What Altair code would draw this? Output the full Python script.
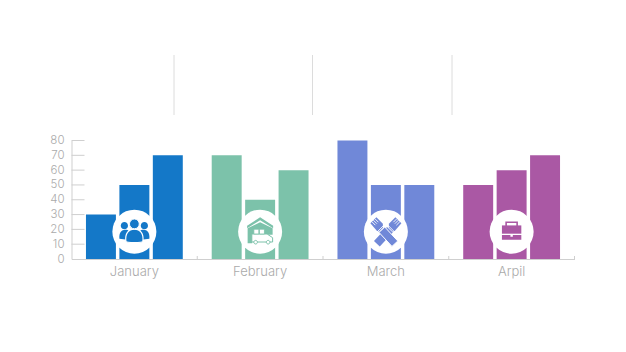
import re
import altair as alt
import pandas as pd

months = ["January", "February", "March", "Arpil"]
first = [30, 70, 80, 50]
second = [50, 40, 50, 60]
third = [70, 60, 50, 70]
colors = ["#1478c8", "#7cc2aa", "#7088d8", "#aa58a4"]
y_ticks = [0, 10, 20, 30, 40, 50, 60, 70, 80]

GREY = "#aaaaaa"
LINE = "#cfcfcf"
FONT = "Inter"
W, H = 503, 118.5
U = 16.0


def sc(path):
    return re.sub(r"-?\d+\.?\d*", lambda m: f"{float(m.group()) / U:.4f}", path)


def circ(cx, cy, r):
    k = r * 0.5523
    return (f"M{cx-r} {cy} C{cx-r} {cy-k} {cx-k} {cy-r} {cx} {cy-r} "
            f"C{cx+k} {cy-r} {cx+r} {cy-k} {cx+r} {cy} "
            f"C{cx+r} {cy+k} {cx+k} {cy+r} {cx} {cy+r} "
            f"C{cx-k} {cy+r} {cx-r} {cy+k} {cx-r} {cy} Z")


rows = []
for m, a, b, c, col in zip(months, first, second, third, colors):
    for s, v in zip("abc", (a, b, c)):
        rows.append({"month": m, "series": s, "value": v, "color": col})
df = pd.DataFrame(rows)

x_scale = alt.Scale(domain=months, paddingInner=0.23, paddingOuter=0.115)
y_scale = alt.Scale(domain=[0, 80], nice=False)
x_axis = alt.Axis(ticks=False, labelAngle=0, labelFont=FONT, labelFontSize=13,
                  labelFontWeight=300, labelColor=GREY, labelPadding=6,
                  domainColor=LINE, domainWidth=1, grid=False, title=None)
y_axis = alt.Axis(values=y_ticks, ticks=False, labelFont=FONT, labelFontSize=11.5,
                  labelFontWeight=300, labelColor=GREY, labelPadding=7.5,
                  domainColor=LINE, domainWidth=1, grid=False, title=None)
x_plain = alt.X("month:N", scale=x_scale, sort=None, axis=x_axis)

bars = alt.Chart(df).mark_bar(cornerRadius=0).encode(
    x=x_plain,
    xOffset=alt.XOffset("series:N", scale=alt.Scale(paddingInner=0.104, paddingOuter=0)),
    y=alt.Y("value:Q", scale=y_scale, axis=y_axis),
    color=alt.Color("color:N", scale=None, legend=None),
)

y_rules = alt.Chart(pd.DataFrame({"t": y_ticks[1:]})).mark_rule(color=LINE, strokeWidth=1).encode(
    y=alt.Y("t:Q", scale=y_scale, axis=y_axis), x=alt.value(0), x2=alt.value(13)
)

one = pd.DataFrame({"k": [0]})
extras = []
for xp in (125.75, 251.5, 377.25, 503):
    extras.append(alt.Chart(one).mark_rule(color=LINE, strokeWidth=1).encode(
        x=alt.value(xp), y=alt.value(H - 3), y2=alt.value(H)))
for xp in (102.5, 241, 380.5):
    extras.append(alt.Chart(one).mark_rule(color="#dcdcdc", strokeWidth=1).encode(
        x=alt.value(xp), y=alt.value(-85.5), y2=alt.value(-25.5)))


def glyph(month, path, fill=None, stroke=None, sw=0.0):
    kw = {"shape": sc(path), "size": (2 * U) ** 2, "opacity": 1}
    if fill:
        kw.update(filled=True, fill=fill)
    else:
        kw.update(filled=False, fill="transparent")
    kw.update(stroke=stroke if stroke else "transparent", strokeWidth=sw)
    return alt.Chart(pd.DataFrame({"month": [month]})).mark_point(**kw).encode(
        x=x_plain, y=alt.value(91.2))


disc = alt.Chart(pd.DataFrame({"month": months})).mark_point(
    shape="circle", filled=True, fill="white", opacity=1, size=44 * 44, strokeWidth=0
).encode(x=x_plain, y=alt.value(91.2))

J, F, M, A = colors
icons = [
    # people
    glyph(months[0], circ(-10, -6, 3.6), J),
    glyph(months[0], circ(10, -6, 3.6), J),
    glyph(months[0], "M-15 7 C-15.5 1 -13 -2 -9 -2 C-6 -2 -4 0 -4 3 L-7 8 Z", J),
    glyph(months[0], "M15 7 C15.5 1 13 -2 9 -2 C6 -2 4 0 4 3 L7 8 Z", J),
    glyph(months[0], "M-8.5 9.5 C-9.5 2 -6 -2.5 0 -2.5 C6 -2.5 9.5 2 8.5 9.5 C8 11.5 -8 11.5 -8.5 9.5 Z", J, "white", 1.2),
    glyph(months[0], circ(0, -7.8, 4.9), J, "white", 1.0),
    # warehouse and truck
    glyph(months[1], "M-13 -6 L0 -14.5 L13 -6 L13 -3.5 L0 -11.5 L-13 -3.5 Z", F),
    glyph(months[1], "M-12.5 -3.5 L0 -9.5 L12.5 -3.5 L12.5 3 L-8 3 L-8 11.5 L-12.5 11.5 Z", F),
    glyph(months[1], "M-8.3 2.3 L7 2.3 L12.5 6 L12.5 10.3 L-8.3 10.3 Z", "white", F, 1.0),
    glyph(months[1], "M-6.3 -2.5 L-1.2 -2.5 L-1.2 2.3 L-6.3 2.3 Z M-0.8 -2.5 L4.3 -2.5 L4.3 2.3 L-0.8 2.3 Z", "white", F, 0.8),
    glyph(months[1], circ(-4.5, 10.5, 1.8), "white", F, 1.0),
    glyph(months[1], circ(8, 10.5, 1.8), "white", F, 1.0),
    # crossed fists
    glyph(months[2], "M6.9 0.7 L1.1 -4.7 L-11.9 9.3 L-6.1 14.7 Z", M),
    glyph(months[2], "M-6.9 0.7 L-1.1 -4.7 L11.9 9.3 L6.1 14.7 Z", M, "white", 1.0),
    glyph(months[2], "M-15.5 -8.5 L-9.5 -14.5 L-3 -8 L-3 -4 L-7 0 L-9.5 -1.5 Z", M),
    glyph(months[2], "M15.5 -8.5 L9.5 -14.5 L3 -8 L3 -4 L7 0 L9.5 -1.5 Z", M),
    glyph(months[2], "M-14 -10 L-10.5 -6.5 M-12.5 -11.5 L-9 -8 M-11 -13 L-7.5 -9.5", None, "white", 0.9),
    glyph(months[2], "M14 -10 L10.5 -6.5 M12.5 -11.5 L9 -8 M11 -13 L7.5 -9.5", None, "white", 0.9),
    glyph(months[2], "M-9 0.5 L-2 -6.5 M9 0.5 L2 -6.5", None, "white", 0.9),
    # briefcase
    glyph(months[3], "M-5.5 -5.5 L-5.5 -9.5 L5.5 -9.5 L5.5 -5.5", None, A, 1.6),
    glyph(months[3], "M-9.7 -6.3 L9.7 -6.3 L9.7 2 L-9.7 2 Z", A),
    glyph(months[3], "M-9.7 3.2 L-1.2 3.2 L-1.2 5 L1.2 5 L1.2 3.2 L9.7 3.2 L9.7 8 L-9.7 8 Z", A),
]

chart = alt.layer(bars, y_rules, *extras, disc, *icons).properties(
    width=W, height=H,
    autosize=alt.AutoSizeParams(type="none"),
    padding={"left": 63.5, "top": 132.5, "right": 43.5, "bottom": 85},
    background="white",
).configure_view(stroke=None)

chart.save("out.html", embed_options={"renderer": "svg", "actions": False})
